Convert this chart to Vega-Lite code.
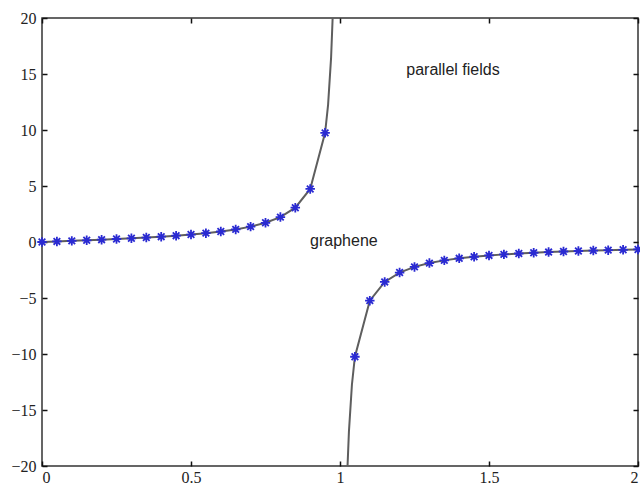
{
  "$schema": "https://vega.github.io/schema/vega-lite/v6.json",
  "width": 596,
  "height": 448,
  "autosize": {"type": "none"},
  "padding": {"left": 42, "top": 18, "right": 2, "bottom": 21},
  "background": "white",
  "config": {
    "view": {"stroke": "#333", "strokeWidth": 1.5},
    "axis": {
      "grid": false,
      "domain": false,
      "offset": -5,
      "tickColor": "#111",
      "tickSize": 5,
      "tickWidth": 1.5,
      "labelFont": "Liberation Serif",
      "labelFontSize": 16,
      "labelColor": "#222",
      "title": null
    }
  },
  "datasets": {
    "curve": [
      {"x": 0.0, "y": 0.0, "branch": "a", "star": true},
      {"x": 0.05, "y": 0.050, "branch": "a", "star": true},
      {"x": 0.1, "y": 0.101, "branch": "a", "star": true},
      {"x": 0.15, "y": 0.154, "branch": "a", "star": true},
      {"x": 0.2, "y": 0.208, "branch": "a", "star": true},
      {"x": 0.25, "y": 0.267, "branch": "a", "star": true},
      {"x": 0.3, "y": 0.330, "branch": "a", "star": true},
      {"x": 0.35, "y": 0.399, "branch": "a", "star": true},
      {"x": 0.4, "y": 0.476, "branch": "a", "star": true},
      {"x": 0.45, "y": 0.564, "branch": "a", "star": true},
      {"x": 0.5, "y": 0.667, "branch": "a", "star": true},
      {"x": 0.55, "y": 0.789, "branch": "a", "star": true},
      {"x": 0.6, "y": 0.938, "branch": "a", "star": true},
      {"x": 0.65, "y": 1.126, "branch": "a", "star": true},
      {"x": 0.7, "y": 1.373, "branch": "a", "star": true},
      {"x": 0.75, "y": 1.714, "branch": "a", "star": true},
      {"x": 0.8, "y": 2.222, "branch": "a", "star": true},
      {"x": 0.85, "y": 3.063, "branch": "a", "star": true},
      {"x": 0.9, "y": 4.737, "branch": "a", "star": true},
      {"x": 0.95, "y": 9.744, "branch": "a", "star": true},
      {"x": 0.96, "y": 12.245, "branch": "a", "star": false},
      {"x": 0.97, "y": 16.413, "branch": "a", "star": false},
      {"x": 0.9753, "y": 20.0, "branch": "a", "star": false},
      {"x": 1.0253, "y": -20.0, "branch": "b", "star": false},
      {"x": 1.03, "y": -16.913, "branch": "b", "star": false},
      {"x": 1.04, "y": -12.745, "branch": "b", "star": false},
      {"x": 1.05, "y": -10.244, "branch": "b", "star": true},
      {"x": 1.1, "y": -5.238, "branch": "b", "star": true},
      {"x": 1.15, "y": -3.566, "branch": "b", "star": true},
      {"x": 1.2, "y": -2.727, "branch": "b", "star": true},
      {"x": 1.25, "y": -2.222, "branch": "b", "star": true},
      {"x": 1.3, "y": -1.884, "branch": "b", "star": true},
      {"x": 1.35, "y": -1.641, "branch": "b", "star": true},
      {"x": 1.4, "y": -1.458, "branch": "b", "star": true},
      {"x": 1.45, "y": -1.315, "branch": "b", "star": true},
      {"x": 1.5, "y": -1.2, "branch": "b", "star": true},
      {"x": 1.55, "y": -1.105, "branch": "b", "star": true},
      {"x": 1.6, "y": -1.026, "branch": "b", "star": true},
      {"x": 1.65, "y": -0.958, "branch": "b", "star": true},
      {"x": 1.7, "y": -0.899, "branch": "b", "star": true},
      {"x": 1.75, "y": -0.848, "branch": "b", "star": true},
      {"x": 1.8, "y": -0.804, "branch": "b", "star": true},
      {"x": 1.85, "y": -0.764, "branch": "b", "star": true},
      {"x": 1.9, "y": -0.728, "branch": "b", "star": true},
      {"x": 1.95, "y": -0.696, "branch": "b", "star": true},
      {"x": 2.0, "y": -0.667, "branch": "b", "star": true}
    ],
    "notes": [
      {"x": 1.379, "y": 15.35, "label": "parallel fields"},
      {"x": 1.013, "y": 0.1, "label": "graphene"}
    ],
    "frame": [{"x": 0, "y": 0}]
  },
  "layer": [
    {
      "data": {"name": "curve"},
      "mark": {"type": "line", "color": "#5e5e5e", "strokeWidth": 2, "clip": true},
      "encoding": {
        "x": {
          "field": "x", "type": "quantitative",
          "scale": {"domain": [0, 2], "nice": false, "zero": false},
          "axis": {"values": [0, 0.5, 1, 1.5, 2], "format": "~g", "labelPadding": 3, "orient": "bottom"}
        },
        "y": {
          "field": "y", "type": "quantitative",
          "scale": {"domain": [-20, 20], "nice": false},
          "axis": {"values": [-20, -15, -10, -5, 0, 5, 10, 15, 20], "labelPadding": 6, "orient": "left"}
        },
        "detail": {"field": "branch"},
        "order": {"field": "x", "type": "quantitative"}
      }
    },
    {
      "data": {"name": "curve"},
      "transform": [{"filter": "datum.star"}],
      "mark": {
        "type": "point",
        "shape": "M-1,0L1,0M0,-1L0,1M-0.7,-0.7L0.7,0.7M-0.7,0.7L0.7,-0.7",
        "filled": false,
        "stroke": "#2a2ad2",
        "strokeWidth": 1.8,
        "size": 90,
        "opacity": 1
      },
      "encoding": {
        "x": {"field": "x", "type": "quantitative", "axis": null},
        "y": {"field": "y", "type": "quantitative", "axis": null}
      }
    },
    {
      "data": {"name": "notes"},
      "mark": {"type": "text", "font": "Liberation Sans", "fontSize": 16, "color": "#222", "align": "center", "baseline": "middle"},
      "encoding": {
        "x": {"field": "x", "type": "quantitative", "axis": null},
        "y": {"field": "y", "type": "quantitative", "axis": null},
        "text": {"field": "label"}
      }
    },
    {
      "data": {"name": "frame"},
      "mark": {"type": "point", "opacity": 0},
      "encoding": {
        "x": {"field": "x", "type": "quantitative", "axis": {"orient": "top", "values": [0, 0.5, 1, 1.5, 2], "labels": false}},
        "y": {"field": "y", "type": "quantitative", "axis": {"orient": "right", "values": [-20, -15, -10, -5, 0, 5, 10, 15, 20], "labels": false}}
      }
    }
  ],
  "resolve": {"axis": {"x": "independent", "y": "independent"}}
}
